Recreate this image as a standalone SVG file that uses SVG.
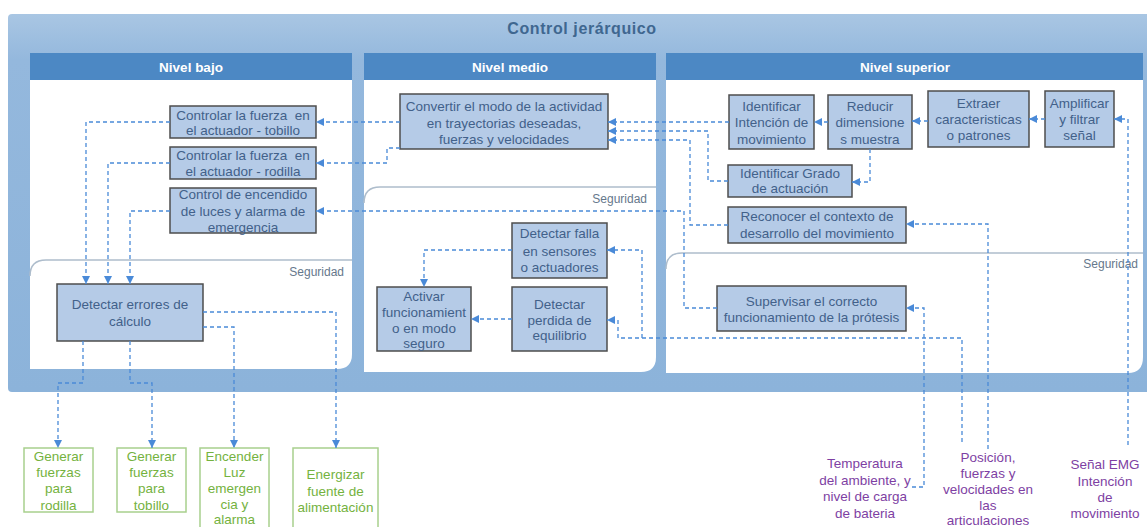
<svg xmlns="http://www.w3.org/2000/svg" width="1147" height="527" viewBox="0 0 1147 527">
  <style>
    .hdr { fill: #4c88c4; }
    .hdr-t { font: bold 13.5px "Liberation Sans", Arial, sans-serif; fill: #ffffff; text-anchor: middle; }
    .body { fill: #ffffff; }
    .seg { fill: none; stroke: #aebdcc; stroke-width: 1.5; }
    .seg-t { font: 12px "Liberation Sans", Arial, sans-serif; fill: #66788c; text-anchor: end; }
    .node rect { fill: #b5cbe7; stroke: #4d4d4d; stroke-width: 1.5; }
    .node text { font: 13.5px "Liberation Sans", Arial, sans-serif; fill: #42618a; text-anchor: middle; }
    .out rect { fill: #ffffff; stroke: #a8d08d; stroke-width: 1.5; }
    .out text { font: 13.5px "Liberation Sans", Arial, sans-serif; fill: #74b23e; text-anchor: middle; }
    .in text { font: 13.5px "Liberation Sans", Arial, sans-serif; fill: #7e3fa3; text-anchor: middle; }
    .conn path { fill: none; stroke: #4a8ad8; stroke-width: 1.3; stroke-dasharray: 4 3; }
    .conn path.a { marker-end: url(#arr); }
  </style>
  <defs>
    <linearGradient id="frameFill" x1="0" y1="0" x2="0" y2="1">
      <stop offset="0" stop-color="#a9c6e3"/>
      <stop offset="0.12" stop-color="#94b8dd"/>
      <stop offset="1" stop-color="#8cb3da"/>
    </linearGradient>
    <marker id="arr" viewBox="0 0 8 8" refX="8" refY="4" markerWidth="8" markerHeight="8" markerUnits="userSpaceOnUse" orient="auto">
      <path d="M0,0 L8,4 L0,8 Z" fill="#4a8ad8"/>
    </marker>
  </defs>

  <rect width="1147" height="527" fill="#ffffff"/>

  <!-- outer frame -->
  <g id="frame">
    <rect x="8" y="14" width="1145" height="378" rx="4" fill="url(#frameFill)"/>
    <text x="582" y="34" font-family="'Liberation Sans', Arial, sans-serif" font-size="16" font-weight="bold" letter-spacing="0.6" fill="#3f6790" text-anchor="middle">Control jerárquico</text>
  </g>

  <!-- level panels -->
  <g id="nivel-bajo">
    <path class="body" d="M30,80 H352 V354 Q352,369 337,369 H30 Z"/>
    <rect class="hdr" x="30" y="53" width="322" height="27"/>
    <text class="hdr-t" x="191" y="72">Nivel bajo</text>
    <path class="seg" d="M30,276 Q30,260 46,260 H352"/>
    <text class="seg-t" x="344" y="276">Seguridad</text>
  </g>
  <g id="nivel-medio">
    <path class="body" d="M364,80 H656 V357 Q656,372 641,372 H364 Z"/>
    <rect class="hdr" x="364" y="53" width="292" height="27"/>
    <text class="hdr-t" x="510" y="72">Nivel medio</text>
    <path class="seg" d="M364,203 Q364,187 380,187 H656"/>
    <text class="seg-t" x="647" y="203">Seguridad</text>
  </g>
  <g id="nivel-superior">
    <path class="body" d="M666,80 H1143 V357 Q1143,373 1128,373 H666 Z"/>
    <rect class="hdr" x="666" y="53" width="477" height="27"/>
    <text class="hdr-t" x="905" y="72">Nivel superior</text>
    <path class="seg" d="M666,269 Q666,253 682,253 H1143"/>
    <text class="seg-t" x="1138" y="268">Seguridad</text>
  </g>

  <!-- nodes -->
  <g id="n-tobillo" class="node">
    <rect x="170" y="106" width="146" height="32"/>
    <text x="243" y="119.5">Controlar la fuerza&#160; en</text>
    <text x="243" y="134.5">el actuador - tobillo</text>
  </g>
  <g id="n-rodilla" class="node">
    <rect x="170" y="147" width="146" height="32"/>
    <text x="243" y="160">Controlar la fuerza&#160; en</text>
    <text x="243" y="176">el actuador - rodilla</text>
  </g>
  <g id="n-encendido" class="node">
    <rect x="170" y="188" width="146" height="45"/>
    <text x="243" y="199">Control de encendido</text>
    <text x="243" y="216">de luces y alarma de</text>
    <text x="243" y="232">emergencia</text>
  </g>
  <g id="n-errores" class="node">
    <rect x="57" y="284" width="146" height="57"/>
    <text x="130" y="309">Detectar errores de</text>
    <text x="130" y="326">cálculo</text>
  </g>
  <g id="n-convertir" class="node">
    <rect x="400" y="94" width="208" height="55"/>
    <text x="504" y="111">Convertir el modo de la actividad</text>
    <text x="504" y="128">en trayectorias deseadas,</text>
    <text x="504" y="144">fuerzas y velocidades</text>
  </g>
  <g id="n-falla" class="node">
    <rect x="512" y="223" width="95" height="55"/>
    <text x="559.5" y="238">Detectar falla</text>
    <text x="559.5" y="256">en sensores</text>
    <text x="559.5" y="272">o actuadores</text>
  </g>
  <g id="n-perdida" class="node">
    <rect x="512" y="287" width="95" height="64"/>
    <text x="559.5" y="309">Detectar</text>
    <text x="559.5" y="325">perdida de</text>
    <text x="559.5" y="340">equilibrio</text>
  </g>
  <g id="n-activar" class="node">
    <rect x="377" y="287" width="94" height="64"/>
    <text x="424" y="301">Activar</text>
    <text x="424" y="317">funcionamient</text>
    <text x="424" y="333">o en modo</text>
    <text x="424" y="348">seguro</text>
  </g>
  <g id="n-intencion" class="node">
    <rect x="729" y="95" width="85" height="54"/>
    <text x="771.5" y="111">Identificar</text>
    <text x="771.5" y="127">Intención de</text>
    <text x="771.5" y="144">movimiento</text>
  </g>
  <g id="n-reducir" class="node">
    <rect x="828" y="95" width="84" height="54"/>
    <text x="870" y="111">Reducir</text>
    <text x="870" y="127">dimensione</text>
    <text x="870" y="144">s muestra</text>
  </g>
  <g id="n-extraer" class="node">
    <rect x="928" y="91" width="101" height="56"/>
    <text x="978.5" y="108">Extraer</text>
    <text x="978.5" y="124">caracteristicas</text>
    <text x="978.5" y="140">o patrones</text>
  </g>
  <g id="n-amplificar" class="node">
    <rect x="1045" y="91" width="69" height="56"/>
    <text x="1079.5" y="108">Amplificar</text>
    <text x="1079.5" y="124">y filtrar</text>
    <text x="1079.5" y="140">señal</text>
  </g>
  <g id="n-grado" class="node">
    <rect x="728" y="165" width="124" height="32"/>
    <text x="790" y="178">Identificar Grado</text>
    <text x="790" y="193">de actuación</text>
  </g>
  <g id="n-contexto" class="node">
    <rect x="728" y="207" width="178" height="36"/>
    <text x="817" y="221">Reconocer el contexto de</text>
    <text x="817" y="238">desarrollo del movimiento</text>
  </g>
  <g id="n-supervisar" class="node">
    <rect x="717" y="286" width="189" height="45"/>
    <text x="811.5" y="306">Supervisar el correcto</text>
    <text x="811.5" y="322">funcionamiento de la prótesis</text>
  </g>

  <!-- outputs -->
  <g id="o-rodilla" class="out">
    <rect x="24" y="448" width="69" height="64"/>
    <text x="58.5" y="461">Generar</text>
    <text x="58.5" y="477">fuerzas</text>
    <text x="58.5" y="493">para</text>
    <text x="58.5" y="510">rodilla</text>
  </g>
  <g id="o-tobillo" class="out">
    <rect x="117" y="448" width="69" height="64"/>
    <text x="151.5" y="461">Generar</text>
    <text x="151.5" y="477">fuerzas</text>
    <text x="151.5" y="493">para</text>
    <text x="151.5" y="510">tobillo</text>
  </g>
  <g id="o-luz" class="out">
    <rect x="200" y="448" width="69" height="92"/>
    <text x="234.5" y="461">Encender</text>
    <text x="234.5" y="477">Luz</text>
    <text x="234.5" y="493">emergen</text>
    <text x="234.5" y="509">cia y</text>
    <text x="234.5" y="524">alarma</text>
  </g>
  <g id="o-fuente" class="out">
    <rect x="293" y="448" width="85" height="92"/>
    <text x="335.5" y="479">Energizar</text>
    <text x="335.5" y="496">fuente de</text>
    <text x="335.5" y="512">alimentación</text>
  </g>

  <!-- inputs -->
  <g id="i-temperatura" class="in">
    <text x="865" y="468">Temperatura</text>
    <text x="865" y="485">del ambiente, y</text>
    <text x="865" y="501">nivel de carga</text>
    <text x="865" y="518">de bateria</text>
  </g>
  <g id="i-posicion" class="in">
    <text x="988" y="462">Posición,</text>
    <text x="988" y="478">fuerzas y</text>
    <text x="988" y="494">velocidades en</text>
    <text x="988" y="510">las</text>
    <text x="988" y="525">articulaciones</text>
  </g>
  <g id="i-emg" class="in">
    <text x="1105" y="469">Señal EMG</text>
    <text x="1105" y="486">Intención</text>
    <text x="1105" y="502">de</text>
    <text x="1105" y="518">movimiento</text>
  </g>

  <!-- connectors -->
  <g id="connectors" class="conn">
    <path class="a" d="M170,122 H86 V284"/>
    <path class="a" d="M170,163 H108 V284"/>
    <path class="a" d="M170,211 H130 V284"/>
    <path class="a" d="M83,341 V383 H58 V448"/>
    <path class="a" d="M130,341 V383 H152 V448"/>
    <path class="a" d="M203,327 H234 V448"/>
    <path class="a" d="M203,312 H336 V448"/>
    <path class="a" d="M400,122 H316"/>
    <path class="a" d="M400,148 H387 V163 H316"/>
    <path class="a" d="M717,308 H684 V211 H316"/>
    <path class="a" d="M729,122 H608"/>
    <path class="a" d="M728,181 H708 V131 H608"/>
    <path class="a" d="M728,225 H690 V140 H608"/>
    <path class="a" d="M828,122 H814"/>
    <path class="a" d="M928,121 H912"/>
    <path class="a" d="M1045,119 H1029"/>
    <path class="a" d="M1128,445 V119 H1114"/>
    <path class="a" d="M870,149 V182 H852"/>
    <path class="a" d="M988,449 V224 H906"/>
    <path class="a" d="M962,442 V338 H618 V320 H607"/>
    <path class="a" d="M642,338 V250 H607"/>
    <path class="a" d="M512,250 H424 V287"/>
    <path class="a" d="M512,319 H471"/>
    <path class="a" d="M912,487 H924 V308 H906"/>
  </g>
</svg>
